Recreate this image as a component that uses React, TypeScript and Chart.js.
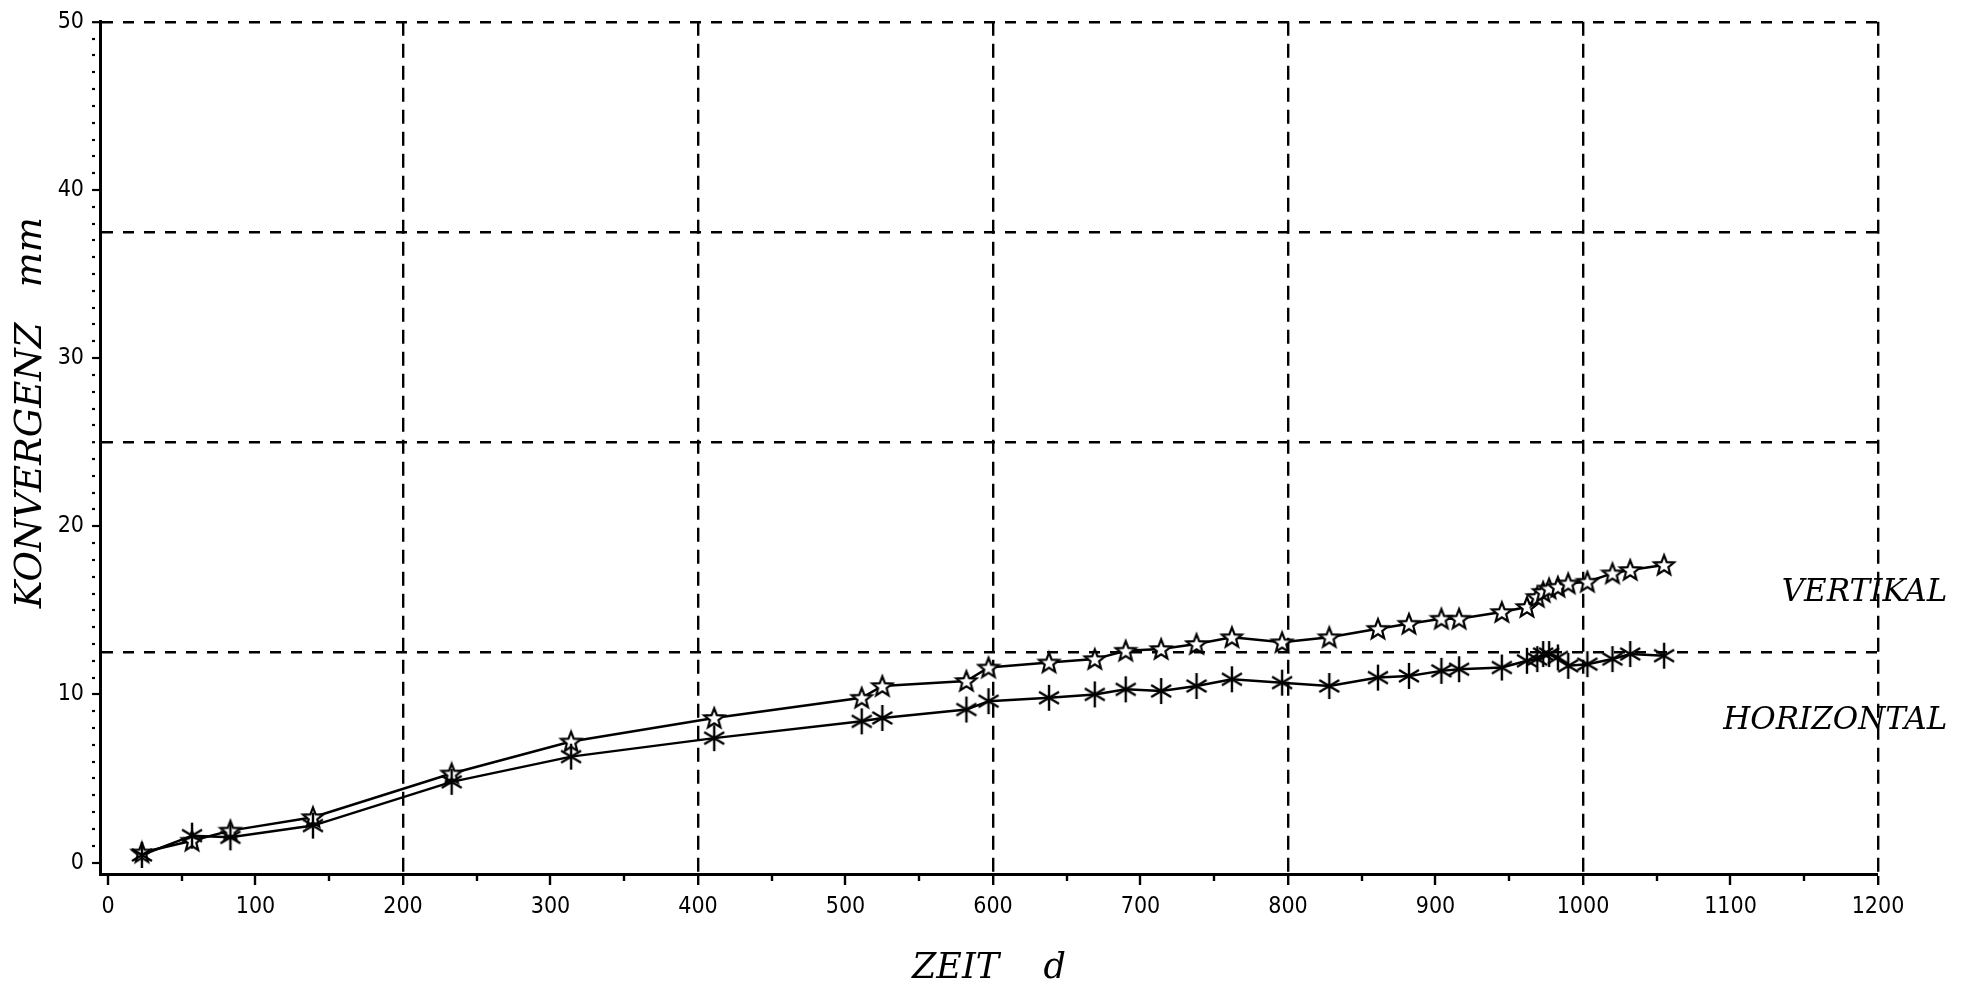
import React, { useEffect, useRef } from 'react';
import { Chart, registerables } from 'chart.js';

Chart.register(...registerables);

// ---- data ----
const days = [23, 57, 83, 139, 233, 314, 411, 511, 525, 582, 597, 638, 669, 690, 714, 738, 762, 796, 828, 861, 882, 904, 916, 945, 962, 969, 973, 977, 983, 990, 1003, 1020, 1032, 1055];
const vertikal = [0.6, 1.3, 1.9, 2.7, 5.3, 7.2, 8.6, 9.8, 10.5, 10.8, 11.6, 11.9, 12.1, 12.6, 12.7, 13.0, 13.4, 13.1, 13.4, 13.9, 14.2, 14.5, 14.5, 14.9, 15.2, 15.8, 16.1, 16.3, 16.4, 16.6, 16.7, 17.2, 17.4, 17.7];
const horizontal = [0.45, 1.6, 1.5, 2.2, 4.8, 6.3, 7.4, 8.4, 8.6, 9.1, 9.6, 9.8, 10.0, 10.3, 10.2, 10.5, 10.9, 10.7, 10.5, 11.0, 11.1, 11.4, 11.5, 11.6, 12.0, 12.1, 12.4, 12.4, 12.2, 11.7, 11.8, 12.1, 12.4, 12.3];

const seriesNames = ['VERTIKAL', 'HORIZONTAL'];
const xTickLabels = [0, 100, 200, 300, 400, 500, 600, 700, 800, 900, 1000, 1100, 1200];
const yTickLabels = [0, 10, 20, 30, 40, 50];
const xGridValues = [200, 400, 600, 800, 1000, 1200];
const yGridValues = [12.5, 25, 37.5, 50];
const xTitle = 'ZEIT\u00A0\u00A0\u00A0\u00A0d';
const yTitle = '\u00A0\u00A0\u00A0\u00A0\u00A0\u00A0KONVERGENZ\u00A0\u00A0\u00A0mm';

const X_MIN = -5.4;
const X_MAX = 1200;
const Y_MIN = -0.68;
const Y_MAX = 50;

const near = (a: number, b: number) => Math.abs(a - b) < 1e-6;
const isInt = (v: number) => near(v, Math.round(v));

function makeStar(): HTMLCanvasElement {
  const c = document.createElement('canvas');
  c.width = 26;
  c.height = 26;
  const g = c.getContext('2d')!;
  g.beginPath();
  for (let i = 0; i < 10; i++) {
    const a = -Math.PI / 2 + (i * Math.PI) / 5;
    const r = i % 2 === 0 ? 10.5 : 4.5;
    const px = 13 + r * Math.cos(a);
    const py = 13.8 + r * Math.sin(a);
    if (i === 0) g.moveTo(px, py);
    else g.lineTo(px, py);
  }
  g.closePath();
  g.fillStyle = '#fff';
  g.fill();
  g.lineWidth = 2.2;
  g.strokeStyle = '#000';
  g.stroke();
  return c;
}

function makeAsterisk(): HTMLCanvasElement {
  const c = document.createElement('canvas');
  c.width = 26;
  c.height = 28;
  const g = c.getContext('2d')!;
  g.strokeStyle = '#000';
  g.lineWidth = 2.4;
  g.lineCap = 'butt';
  g.beginPath();
  g.moveTo(13, 1);
  g.lineTo(13, 27);
  g.moveTo(3, 8);
  g.lineTo(23, 20);
  g.moveTo(3, 20);
  g.lineTo(23, 8);
  g.stroke();
  return c;
}

const seriesLabelPlugin = {
  id: 'seriesLabels',
  afterDraw(chart: any) {
    const { ctx, scales } = chart;
    const xs = scales.x;
    const ys = scales.y;
    const anchors = [16.05, 8.4];
    ctx.save();
    ctx.font = 'italic 31px "DejaVu Serif", serif';
    ctx.fillStyle = '#000';
    ctx.textAlign = 'right';
    ctx.textBaseline = 'middle';
    seriesNames.forEach((name, i) => {
      ctx.fillText(name, xs.getPixelForValue(1247), ys.getPixelForValue(anchors[i]));
    });
    ctx.restore();
  },
};

export default function App() {
  const ref = useRef<HTMLCanvasElement | null>(null);

  useEffect(() => {
    if (!ref.current) return;
    const star = makeStar();
    const aster = makeAsterisk();
    const tickFont = { family: '"Liberation Sans Narrow", "DejaVu Sans Condensed", "Liberation Sans", sans-serif', size: 23 };
    const xTitleFont = { family: '"DejaVu Serif", serif', size: 35, style: 'italic' as const };
    const yTitleFont = { family: '"DejaVu Serif", serif', size: 37, style: 'italic' as const };

    const chart = new Chart(ref.current, {
      type: 'line',
      data: {
        datasets: [
          {
            label: seriesNames[1],
            data: days.map((d, i) => ({ x: d, y: horizontal[i] })),
            borderColor: '#000',
            borderWidth: 2.5,
            pointStyle: aster,
            pointRadius: 12,
            tension: 0,
            fill: false,
          },
          {
            label: seriesNames[0],
            data: days.map((d, i) => ({ x: d, y: vertikal[i] })),
            borderColor: '#000',
            borderWidth: 2.5,
            pointStyle: star,
            pointRadius: 12,
            tension: 0,
            fill: false,
          },
        ],
      },
      options: {
        animation: false,
        responsive: true,
        maintainAspectRatio: false,
        clip: false as any,
        layout: { padding: { left: 0, top: 20, right: 92, bottom: 0 } },
        plugins: { legend: { display: false }, tooltip: { enabled: false } },
        scales: {
          x: {
            type: 'linear',
            min: X_MIN,
            max: X_MAX,
            afterFit: (s: any) => { s.height = 116; },
            ticks: {
              stepSize: 50,
              autoSkip: false,
              includeBounds: false,
              maxRotation: 0,
              minRotation: 0,
              padding: 8,
              color: '#000',
              font: tickFont,
              callback: (v: any) => (xTickLabels.some((t) => near(t, Number(v))) ? String(v) : ''),
            },
            grid: {
              drawOnChartArea: true,
              drawTicks: true,
              tickLength: 11,
              color: (c: any) => (xGridValues.some((t) => near(t, c.tick.value)) ? '#000' : 'rgba(0,0,0,0)'),
              lineWidth: (c: any) => (xGridValues.some((t) => near(t, c.tick.value)) ? 2.4 : 0),
              tickColor: '#000',
              tickWidth: (c: any) => (c.tick.value >= 0 ? 2.4 : 0),
              tickBorderDash: (c: any) => (xTickLabels.some((t) => near(t, c.tick.value)) ? [] : [5, 40]),
            } as any,
            border: { display: true, color: '#000', width: 3, dash: [14, 8] },
            title: { display: true, text: xTitle, color: '#000', font: xTitleFont, padding: { top: 0, bottom: 0 } },
          },
          y: {
            type: 'linear',
            min: Y_MIN,
            max: Y_MAX,
            afterFit: (s: any) => { s.width = 100; },
            ticks: {
              stepSize: 0.5,
              autoSkip: false,
              includeBounds: false,
              padding: 8,
              color: '#000',
              font: tickFont,
              callback: (v: any) => (yTickLabels.some((t) => near(t, Number(v))) ? String(v) : ''),
            },
            grid: {
              drawOnChartArea: true,
              drawTicks: true,
              tickLength: 8,
              color: (c: any) => (yGridValues.some((t) => near(t, c.tick.value)) ? '#000' : 'rgba(0,0,0,0)'),
              lineWidth: (c: any) => (yGridValues.some((t) => near(t, c.tick.value)) ? 2.4 : 0),
              tickColor: '#000',
              tickWidth: (c: any) => (isInt(c.tick.value) && c.tick.value >= 0 ? 2.2 : 0),
              tickBorderDash: (c: any) => (yTickLabels.some((t) => near(t, c.tick.value)) ? [] : [3, 30]),
            } as any,
            border: { display: true, color: '#000', width: 3, dash: [11, 10] },
            title: { display: true, text: yTitle, color: '#000', font: yTitleFont, padding: { top: 9, bottom: 0 } },
          },
        },
      } as any,
      plugins: [seriesLabelPlugin],
    });
    return () => chart.destroy();
  }, []);

  return (
    <div style={{ position: 'fixed', left: 0, top: 0, width: 1970, height: 990, background: '#fff' }}>
      <canvas ref={ref} />
    </div>
  );
}
